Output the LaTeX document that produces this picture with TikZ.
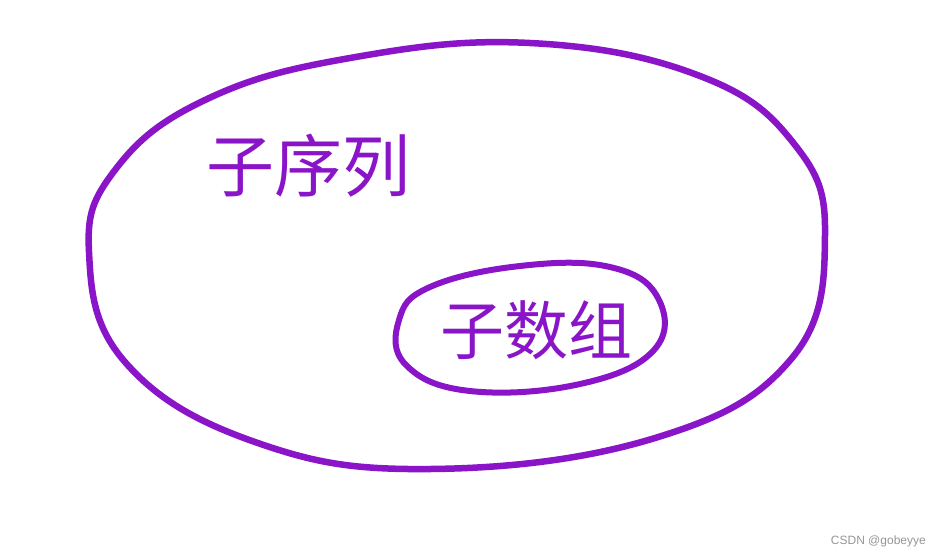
\documentclass[tikz,border=0pt]{standalone}
\usepackage{fontspec}
\setmainfont{Liberation Sans}
\newfontfamily\cjk{Noto Sans CJK SC}
\definecolor{pen}{RGB}{138,20,200}
\definecolor{mark}{RGB}{150,150,150}
\begin{document}
\begin{tikzpicture}[x=1pt,y=-1pt,
  loop/.style={draw=pen,line width=6.5pt,line cap=round,line join=round},
  hand/.style={text=pen,inner sep=0pt}]
\useasboundingbox[fill=white] (0,0) rectangle (937,558);
\draw[loop] plot[smooth cycle,tension=0.7] coordinates {
  (205,100) (350,58) (530,43) (700,76) (795,145) (825,235) (792,358)
  (655,438) (430,469) (255,442) (125,362) (89,252) (115,170)};
\draw[loop,line width=6pt] plot[smooth cycle,tension=0.7] coordinates {
  (430,287) (520,266) (610,267) (658,298) (654,350) (580,384)
  (470,391) (406,365) (399,320)};
\node[hand,font=\cjk\fontsize{68}{70}\selectfont] (seq) at (308,166) {子序列};
\node[hand,font=\cjk\fontsize{64}{66}\selectfont] (arr) at (536,330) {子数组};
\node[text=mark,font=\fontsize{12}{14}\selectfont,anchor=east,inner sep=0pt] (wm) at (926,541) {CSDN @gobeyye};
\end{tikzpicture}
\end{document}
